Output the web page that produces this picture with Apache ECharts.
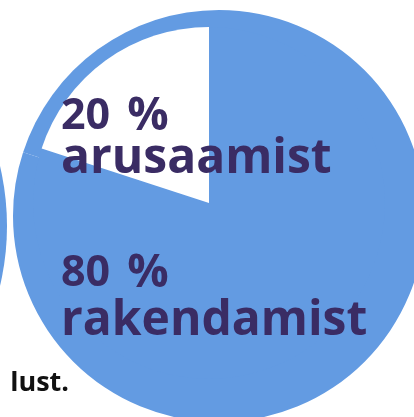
<!DOCTYPE html>
<html>
<head>
<meta charset="utf-8">
<script src="https://cdn.jsdelivr.net/npm/echarts@6/dist/echarts.min.js"></script>
<style>html,body{margin:0;padding:0;background:#fff}#c{width:414px;height:417px}</style>
</head>
<body>
<div id="c"></div>
<script>
var categories = ['rakendamist', 'arusaamist'];
var values = [80, 20];
var percentSign = '%';
var footText = 'lust.';

var BLUE = '#639be2';
var TEXT = '#3a2c64';

var chart = echarts.init(document.getElementById('c'), null, {renderer: 'canvas'});

function pieData(colors) {
  return categories.map(function (c, i) {
    return {name: c, value: values[i], itemStyle: {color: colors[i], borderWidth: 0, borderColor: colors[i]}};
  });
}
var pctRich = {
  n: {fontFamily: 'Open Sans', fontWeight: 'bold', fontSize: 43, lineHeight: 43, color: TEXT},
  sp: {fontFamily: 'Open Sans', fontWeight: 'bold', fontSize: 43, lineHeight: 43, color: TEXT, padding: [0, 3, 0, 3]},
  p: {fontFamily: 'Open Sans', fontWeight: 'bold', fontSize: 46, lineHeight: 43, color: TEXT}
};
function pctItem(id, x, y, i) {
  return {type: 'text', id: id, z: 100, left: x, top: y, silent: true,
    style: {text: '{n|' + values[i] + '}{sp| }{p|' + percentSign + '}', rich: pctRich,
      font: 'bold 43px "Open Sans"', fill: TEXT}};
}
function lineText(id, x, y, txt, size) {
  return {type: 'text', id: id, z: 100, left: x, top: y, silent: true,
    style: {text: txt, font: 'bold ' + size + 'px "Open Sans"', fill: TEXT, lineHeight: size}};
}

chart.setOption({
  animation: false,
  backgroundColor: '#ffffff',
  series: [
    {
      type: 'pie', silent: true, center: [219, 216], radius: [0, 206], z: 1,
      startAngle: 90, clockwise: true, label: {show: false}, labelLine: {show: false},
      itemStyle: {borderWidth: 0},
      data: pieData([BLUE, BLUE])
    },
    {
      type: 'pie', silent: true, center: [209, 203], radius: [0, 176], z: 2,
      startAngle: 90, clockwise: true, label: {show: false}, labelLine: {show: false},
      itemStyle: {borderWidth: 0},
      data: pieData([BLUE, '#ffffff'])
    }
  ],
  graphic: [
    {type: 'circle', z: 0, shape: {cx: -253, cy: 226, r: 260}, style: {fill: BLUE}, silent: true},
    pctItem('p1', 61, 94, 1),
    lineText('c1', 61, 135, categories[1], 48),
    pctItem('p0', 61, 251, 0),
    lineText('c0', 61, 297, categories[0], 48),
    {type: 'text', z: 100, right: 345, top: 370, silent: true,
      style: {text: footText, font: 'bold 27px "Open Sans"', fill: '#111111', lineHeight: 27}}
  ]
});
</script>
</body>
</html>
